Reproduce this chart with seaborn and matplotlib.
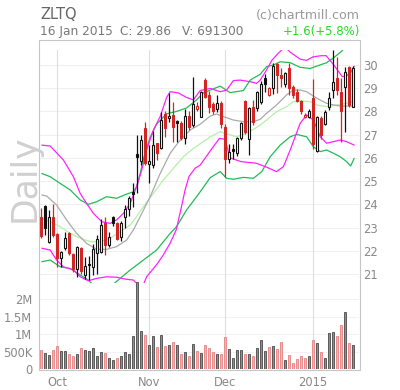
import numpy as np
import matplotlib
matplotlib.use("Agg")
import matplotlib.pyplot as plt
import seaborn as sns
from matplotlib.patches import Rectangle

# ---------------- data ----------------
ticker = "ZLTQ"
date_label = "16 Jan 2015"
close_label = "C: 29.86"
vol_label = "V: 691300"
change_label = "+1.6(+5.8%)"
site_label = "(c)chartmill.com"
period_label = "Daily"

opens = [23.44, 23.93, 22.39, 23.47, 22.72, 21.70, 22.10, 22.75, 21.86, 21.20,
         22.14, 20.96, 21.45, 21.31, 21.90, 21.95, 23.20, 22.25, 23.45, 23.20,
         22.60, 23.45, 23.80, 24.55, 26.15, 25.85, 27.30, 25.75, 25.68, 26.62,
         26.42, 27.90, 27.70, 27.85, 27.60, 27.50, 26.85, 27.80, 27.42, 28.10,
         27.78, 29.37, 28.70, 28.30, 28.09, 28.35, 27.35, 25.95, 26.38, 26.20,
         26.84, 28.45, 26.80, 28.20, 28.15, 28.42, 29.45, 28.72, 29.00, 30.05,
         29.55, 29.17, 29.85, 29.05, 28.85, 28.45, 27.75, 27.78, 28.60, 26.30,
         27.70, 27.45, 28.20, 28.92, 29.43, 28.85, 29.07, 29.93, 28.20]
highs = [23.83, 23.98, 23.75, 24.00, 22.78, 22.00, 22.82, 22.82, 21.92, 22.20,
         22.16, 21.72, 21.77, 22.30, 22.70, 23.35, 23.45, 22.80, 23.50, 23.25,
         23.30, 23.95, 24.35, 24.90, 26.98, 26.98, 27.55, 26.55, 27.15, 26.65,
         27.99, 28.00, 28.78, 28.42, 27.65, 27.60, 28.10, 28.00, 29.50, 28.40,
         28.90, 29.42, 28.90, 28.40, 28.71, 28.45, 27.45, 26.60, 26.60, 26.90,
         27.56, 28.50, 28.20, 28.50, 28.90, 29.30, 29.60, 29.05, 30.10, 30.10,
         29.85, 29.71, 30.07, 29.15, 28.95, 28.50, 27.95, 28.10, 29.40, 27.80,
         27.80, 28.05, 28.85, 30.65, 30.35, 29.43, 29.93, 29.95, 29.97]
lows = [22.53, 22.68, 22.32, 22.60, 21.31, 21.31, 22.03, 21.82, 21.10, 20.85,
        21.00, 20.80, 20.74, 20.95, 21.00, 21.90, 21.80, 22.15, 23.05, 22.45,
        22.40, 23.00, 23.50, 23.90, 24.50, 25.70, 25.70, 24.90, 25.58, 25.90,
        26.38, 26.90, 27.56, 26.70, 26.70, 26.75, 26.60, 27.20, 27.34, 28.00,
        27.75, 28.60, 27.95, 27.90, 27.99, 27.27, 25.19, 25.80, 25.95, 26.10,
        26.77, 27.05, 26.13, 27.40, 28.00, 28.30, 28.85, 28.65, 28.75, 28.80,
        29.07, 29.07, 28.71, 28.60, 28.40, 27.90, 27.70, 27.70, 26.40, 26.25,
        26.80, 27.40, 28.05, 28.57, 28.71, 26.70, 27.13, 28.20, 28.20]
closes = [22.63, 22.96, 23.45, 22.68, 21.67, 21.96, 22.53, 21.89, 21.20, 22.15,
          21.12, 21.35, 21.40, 22.06, 22.49, 23.10, 22.25, 22.60, 23.20, 22.52,
          23.20, 23.80, 24.27, 24.45, 26.05, 26.77, 25.80, 25.86, 26.55, 26.20,
          27.63, 27.27, 27.80, 27.34, 27.50, 26.84, 27.82, 27.34, 28.30, 28.22,
          28.85, 28.64, 28.20, 28.00, 28.38, 27.45, 25.95, 26.24, 26.30, 26.84,
          27.52, 27.12, 28.13, 27.56, 28.82, 29.17, 29.20, 29.00, 29.95, 29.58,
          29.45, 29.64, 29.00, 28.70, 28.45, 28.00, 27.85, 28.02, 26.60, 27.77,
          27.00, 27.99, 28.59, 29.28, 28.92, 28.00, 29.71, 28.26, 29.86]
volumes_m = [0.55, 0.47, 0.41, 0.55, 0.67, 0.52, 0.52, 0.44, 0.38, 0.44,
             0.61, 0.55, 0.52, 0.61, 0.38, 0.50, 0.47, 0.33, 0.27, 0.33,
             0.38, 0.50, 0.44, 0.95, 2.48, 1.10, 0.98, 0.70, 0.95, 0.64,
             0.98, 0.67, 0.70, 0.78, 0.70, 0.44, 0.50, 0.38, 0.73, 0.52,
             0.47, 0.70, 0.61, 0.50, 0.44, 0.44, 0.92, 0.58, 0.33, 0.55,
             0.55, 0.44, 0.44, 0.38, 0.61, 0.84, 0.52, 0.64, 0.67, 0.58,
             0.78, 0.27, 0.41, 0.18, 0.30, 0.38, 0.33, 0.38, 0.84, 0.75,
             0.50, 0.33, 1.04, 1.07, 0.95, 1.25, 1.62, 0.75, 0.6913]
prev_close = 23.2

month_pos = [4, 27, 46, 68]
month_labels = ["Oct", "Nov", "Dec", "2015"]
price_ticks = [21, 22, 23, 24, 25, 26, 27, 28, 29, 30]
vol_ticks = [0, 500000, 1000000, 1500000, 2000000]
vol_tick_labels = ["0", "500K", "1M", "1.5M", "2M"]

bb_upper_x = [0.2, 2.3, 5.6, 8.1, 9.8, 11.4, 13.1, 15.2, 17.3, 18.9, 20.6, 22.3, 23.9,
              25.2, 26.4, 28.1, 29.8, 31.4, 32.3, 34.3, 36.4, 38.1, 39.8, 42.3, 44.8,
              46.4, 48.1, 49.8, 52.3, 53.9, 54.8, 56.4, 57.7, 59.3, 60.5, 61.5, 62.3,
              64.8, 66.4, 68.0, 70.0, 71.3, 73.2, 75.3, 76.5, 77.5, 78.3]
bb_upper_y = [26.55, 26.51, 25.91, 25.19, 24.47, 24.04, 23.61, 23.25, 23.18, 23.33, 23.61,
              24.04, 24.76, 25.48, 26.34, 27.20, 27.78, 28.60, 28.85, 28.80, 28.60, 28.50,
              28.90, 28.99, 28.85, 28.92, 29.33, 29.35, 29.28, 29.21, 29.35, 29.79, 30.20,
              30.50, 30.70, 30.70, 30.55, 30.25, 30.20, 30.35, 30.40, 30.40, 30.00, 29.50,
              29.55, 29.70, 29.95]
bb_lower_x = [0.2, 2.3, 3.9, 5.6, 8.1, 9.8, 11.8, 13.9, 16.4, 18.9, 21.4, 23.1, 24.5,
              25.5, 26.4, 28.9, 30.5, 32.2, 33.8, 35.0, 36.0, 37.0, 38.5, 39.8, 42.3,
              44.6, 46.0, 47.3, 50.0, 53.8, 56.4, 58.9, 60.6, 62.3, 64.8, 66.4, 68.1,
              69.8, 71.4, 73.1, 74.8, 76.4, 78.3]
bb_lower_y = [22.11, 22.03, 21.60, 21.31, 21.17, 20.88, 20.71, 20.81, 20.88, 20.86, 20.77,
              20.74, 20.45, 20.50, 20.88, 21.40, 21.80, 22.30, 22.90, 23.80, 24.60, 25.20,
              25.55, 25.69, 26.30, 26.84, 26.80, 26.00, 25.84, 25.77, 25.60, 25.41, 25.62,
              26.34, 27.49, 27.85, 27.63, 26.91, 26.63, 26.70, 26.77, 26.70, 26.55]
kc_upper_x = [0.2, 2.3, 4.8, 7.3, 9.8, 11.8, 13.9, 16.4, 18.9, 21.4, 23.1, 23.9, 24.8,
              25.6, 27.2, 28.9, 31.4, 33.9, 36.4, 38.9, 40.6, 42.3, 44.8, 47.3, 50.6,
              52.3, 54.8, 56.4, 58.1, 59.8, 62.3, 64.8, 67.3, 68.9, 71.4, 73.1, 75.2,
              76.8, 78.3]
kc_upper_y = [25.33, 25.19, 24.90, 24.62, 24.19, 24.00, 24.11, 24.33, 24.26, 24.44, 24.54,
              24.76, 25.33, 25.95, 26.85, 27.45, 27.90, 28.00, 28.15, 28.50, 28.80, 28.92,
              29.09, 28.81, 28.90, 29.35, 29.60, 29.93, 30.00, 30.14, 30.10, 29.90, 29.85,
              29.95, 30.10, 30.30, 30.60, 30.90, 31.10]
kc_lower_x = [0.2, 2.3, 4.8, 7.3, 9.8, 11.8, 13.5, 16.0, 18.0, 19.3, 22.3, 25.6, 28.9,
              32.3, 33.9, 36.4, 38.9, 39.8, 42.3, 44.8, 46.4, 48.1, 50.6, 53.1, 55.2,
              57.3, 59.8, 62.3, 63.9, 66.4, 68.1, 69.8, 71.4, 73.1, 74.8, 76.4, 77.4, 78.3]
kc_lower_y = [21.53, 21.60, 21.31, 21.24, 20.96, 20.74, 20.45, 20.40, 20.55, 20.74, 21.17,
              21.60, 22.03, 22.75, 23.04, 23.76, 24.33, 24.54, 25.15, 25.41, 25.12, 25.08,
              25.16, 25.12, 25.41, 26.05, 26.55, 26.91, 27.01, 26.91, 26.48, 26.27, 26.34,
              26.20, 26.05, 25.84, 25.65, 25.98]
sma_x = [0.2, 1.4, 3.9, 6.4, 8.9, 11.4, 13.9, 16.4, 18.9, 21.4, 23.1, 24.8, 27.3, 29.8,
         32.3, 34.8, 37.3, 39.8, 42.3, 43.9, 45.6, 48.1, 50.6, 53.1, 54.8, 56.4, 58.9,
         61.4, 63.1, 64.8, 66.4, 68.1, 69.8, 71.4, 73.1, 74.8, 78.3]
sma_y = [24.40, 24.36, 23.97, 23.33, 22.75, 22.32, 22.06, 22.06, 22.18, 22.46, 22.90,
         23.47, 24.33, 25.33, 26.20, 26.77, 27.20, 27.45, 27.80, 27.89, 27.78, 27.63,
         27.56, 27.56, 27.66, 27.92, 28.28, 28.71, 28.92, 28.92, 28.85, 28.66, 28.49,
         28.35, 28.28, 28.23, 28.23]
ema_x = [0.2, 2.3, 4.8, 7.3, 9.8, 12.3, 14.8, 17.3, 19.8, 22.3, 23.9, 25.6, 28.1, 30.6,
         33.1, 35.6, 38.1, 40.6, 42.3, 44.8, 47.3, 48.9, 51.4, 53.9, 56.4, 58.9, 61.4,
         63.1, 64.8, 67.3, 68.9, 71.4, 73.9, 76.4, 78.3]
ema_y = [23.40, 23.25, 23.04, 22.75, 22.54, 22.39, 22.39, 22.54, 22.82, 23.11, 23.47,
         23.90, 24.47, 25.05, 25.55, 26.05, 26.41, 26.70, 26.90, 27.13, 26.99, 26.91,
         27.06, 27.31, 27.63, 27.99, 28.21, 28.42, 28.46, 28.42, 28.28, 28.21, 28.28,
         28.35, 28.46]

# ---------------- style ----------------
sns.set_style("white")
plt.rcParams['font.family'] = ['DejaVu Sans']

W, H = 400.0, 390.0
fig = plt.figure(figsize=(4, 3.9), dpi=100)

def fx(px):
    return px / W

def fy(py):
    return 1 - py / H

ax = fig.add_axes([fx(39), fy(283), 320 / W, (283 - 50) / H])
axv = fig.add_axes([fx(39), fy(369.3), 320 / W, (369.3 - 281) / H])
for a in (ax, axv):
    a.set_facecolor('none')
    for s in a.spines.values():
        s.set_visible(False)
    a.set_xlim(-0.5, 79.5)

n = len(closes)
xs = np.arange(n)
o = np.array(opens)
c = np.array(closes)
h = np.array(highs)
l = np.array(lows)
prev = np.concatenate([[prev_close], c[:-1]])
down = c < prev
edge = np.where(down, '#d42525', '#111111')
hollow = c >= o
face = ['#ffffff' if hh else ee for hh, ee in zip(hollow, edge)]

# grid
ax.set_ylim(20.612, 30.646)
ax.set_yticks(price_ticks)
ax.set_xticks(month_pos)
ax.grid(False)
for p in price_ticks:
    ax.axhline(p, color='#efefef', lw=0.8, zorder=0)
for m in month_pos:
    ax.axvline(m, color='#dedede', lw=0.8, zorder=0)

# indicator lines
line_specs = [
    (kc_upper_x, kc_upper_y, '#22bb55'),
    (kc_lower_x, kc_lower_y, '#22bb55'),
    (ema_x, ema_y, '#b4f0a8'),
    (sma_x, sma_y, '#aaaaaa'),
    (bb_upper_x, bb_upper_y, '#ff22ff'),
    (bb_lower_x, bb_lower_y, '#ff22ff'),
]
for lx, ly, col in line_specs:
    sns.lineplot(x=lx, y=ly, ax=ax, color=col, lw=0.9, zorder=2)

# candles
ax.vlines(xs, l, h, colors=edge, lw=0.9, zorder=3)
body_bottom = np.minimum(o, c)
body_h = np.maximum(np.abs(c - o), 0.04)
ax.bar(xs, body_h, bottom=body_bottom, width=0.72, color=face, edgecolor=edge,
       linewidth=0.8, zorder=4)

ax.yaxis.tick_right()
ax.tick_params(axis='y', length=0, pad=3, labelcolor='#888888', labelsize=8.3)
ax.tick_params(axis='x', length=0, labelbottom=False)

# volume
vols = np.array(volumes_m) * 1e6
vfill = np.where(down, '#f4b0b0', '#8e8e8e')
vedge = np.where(down, '#e68282', '#4a4a4a')
axv.set_ylim(0, 2.512e6)
for v in vol_ticks:
    axv.axhline(v, color='#f2f2f2', lw=0.8, zorder=0)
for m in month_pos:
    axv.axvline(m, color='#dedede', lw=0.8, zorder=0)
axv.bar(xs, vols, width=0.72, color=vfill, edgecolor=vedge, linewidth=0.6, zorder=3)
axv.set_yticks(vol_ticks)
axv.set_yticklabels(vol_tick_labels)
axv.set_xticks(month_pos)
axv.set_xticklabels(month_labels)
axv.tick_params(axis='both', length=0, labelcolor='#888888', labelsize=8.3)
axv.tick_params(axis='y', pad=5)
axv.tick_params(axis='x', pad=5)
axv.grid(False)

# frame
fig.add_artist(Rectangle((fx(39), fy(369.5)), 320.5 / W, (369.5 - 39.5) / H,
                         transform=fig.transFigure, fill=False,
                         edgecolor='#c6c6c6', lw=0.8))

# header texts
fig.text(fx(40.5), fy(19), ticker, fontsize=10.5, color='#666666', va='baseline', ha='left')
fig.text(fx(40.5), fy(35), date_label, fontsize=8.7, color='#777777', va='baseline', ha='left')
fig.text(fx(119.5), fy(35), close_label, fontsize=8.7, color='#777777', va='baseline', ha='left')
fig.text(fx(181.5), fy(35), vol_label, fontsize=8.7, color='#777777', va='baseline', ha='left')
fig.text(fx(360), fy(18.5), site_label, fontsize=9.1, color='#999999', va='baseline', ha='right')
fig.text(fx(360), fy(35), change_label, fontsize=8.5, color='#22dd22', va='baseline', ha='right')
fig.text(fx(35), fy(222), period_label, fontsize=25, color='#d0d0d0', rotation=90,
         rotation_mode='anchor', ha='left', va='baseline')

fig.savefig("out.png", dpi=100)
